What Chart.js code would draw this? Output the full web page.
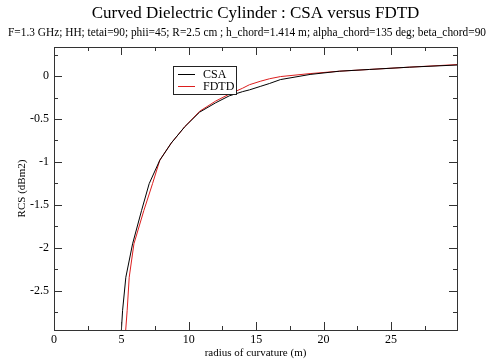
<!DOCTYPE html>
<html>
<head>
<meta charset="utf-8">
<script src="https://cdn.jsdelivr.net/npm/chart.js@4.4.0/dist/chart.umd.min.js"></script>
<style>
    html, body { margin: 0; padding: 0; background: #fff; }
    #wrap { width: 486px; height: 362px; }
</style>
</head>
<body>
<div id="wrap"><canvas id="rcsCanvas" width="486" height="362"></canvas></div>
<script>
// Values
const csaRadius = [5.0, 5.09, 5.33, 5.83, 6.5, 7.06, 7.85, 8.7, 9.7, 10.8, 12.0, 13.0, 14.0, 14.5, 15.3, 16.0, 16.8, 19.0, 21.2, 23.4, 26.4, 29.9];
const csaRcs = [-2.96, -2.73, -2.345, -1.955, -1.565, -1.254, -0.98, -0.78, -0.59, -0.42, -0.31, -0.23, -0.18, -0.16, -0.12, -0.085, -0.04, 0.02, 0.058, 0.078, 0.105, 0.13];
const fdtdRadius = [5.32, 5.43, 5.58, 5.93, 6.67, 7.31, 7.85, 8.7, 9.7, 10.8, 12.0, 13.0, 14.0, 14.5, 15.3, 16.0, 16.8, 19.0, 21.2, 23.4, 26.4, 29.9];
const fdtdRcs = [-2.96, -2.73, -2.345, -1.955, -1.565, -1.254, -0.98, -0.78, -0.59, -0.41, -0.29, -0.21, -0.14, -0.10, -0.06, -0.03, -0.005, 0.03, 0.058, 0.078, 0.105, 0.135];

const xTickLabels = [0, 5, 10, 15, 20, 25];
const xMinorTicks = [2.5, 7.5, 12.5, 17.5, 22.5, 27.5];
const yTickLabels = [0, -0.5, -1, -1.5, -2, -2.5];
const yMinorTicks = [0.25, -0.25, -0.75, -1.25, -1.75, -2.25, -2.75];

const serif = 'Liberation Serif';

function toPoints(xs, ys) {
    return xs.map((x, i) => ({ x: x, y: ys[i] }));
}

// Frame with inward ticks on all four sides (grace style)
const framePlugin = {
    id: 'frame',
    afterDraw(chart) {
        const ctx = chart.ctx;
        const a = chart.chartArea;
        const xs = chart.scales.x;
        const ys = chart.scales.y;
        ctx.save();
        ctx.strokeStyle = '#333';
        ctx.lineWidth = 1;
        ctx.strokeRect(Math.round(a.left) + 0.5, Math.round(a.top) + 0.5,
            Math.round(a.right - a.left), Math.round(a.bottom - a.top));
        ctx.beginPath();
        const tickX = (v, len) => {
            const p = Math.round(xs.getPixelForValue(v)) + 0.5;
            ctx.moveTo(p, a.bottom); ctx.lineTo(p, a.bottom - len);
            ctx.moveTo(p, a.top); ctx.lineTo(p, a.top + len);
        };
        const tickY = (v, len) => {
            const p = Math.round(ys.getPixelForValue(v)) + 0.5;
            ctx.moveTo(a.left, p); ctx.lineTo(a.left + len, p);
            ctx.moveTo(a.right, p); ctx.lineTo(a.right - len, p);
        };
        xTickLabels.forEach(v => tickX(v, 8));
        xMinorTicks.forEach(v => tickX(v, 4));
        yTickLabels.forEach(v => tickY(v, 8));
        yMinorTicks.forEach(v => tickY(v, 4));
        ctx.stroke();
        ctx.restore();
    }
};

// Boxed legend placed inside the plot
const boxLegendPlugin = {
    id: 'boxLegend',
    afterDraw(chart) {
        const ctx = chart.ctx;
        ctx.save();
        ctx.fillStyle = '#fff';
        ctx.fillRect(173.5, 66.5, 63, 28);
        ctx.strokeStyle = '#222';
        ctx.lineWidth = 1;
        ctx.strokeRect(173.5, 66.5, 63, 28);
        ctx.font = '12px "' + serif + '"';
        ctx.textBaseline = 'middle';
        chart.data.datasets.forEach((ds, i) => {
            const y = 74.5 + i * 12;
            ctx.strokeStyle = ds.borderColor;
            ctx.beginPath();
            ctx.moveTo(178, y); ctx.lineTo(195, y);
            ctx.stroke();
            ctx.fillStyle = '#000';
            ctx.fillText(ds.label, 203, y);
        });
        ctx.restore();
    }
};

const chart = new Chart(document.getElementById('rcsCanvas'), {
    type: 'line',
    data: {
        datasets: [{
            label: 'CSA',
            data: toPoints(csaRadius, csaRcs),
            borderColor: '#000',
            borderWidth: 1,
            pointRadius: 0,
            tension: 0
        }, {
            label: 'FDTD',
            data: toPoints(fdtdRadius, fdtdRcs),
            borderColor: 'rgb(220, 30, 30)',
            borderWidth: 1,
            pointRadius: 0,
            tension: 0
        }]
    },
    options: {
        responsive: false,
        animation: false,
        devicePixelRatio: 1,
        layout: {
            padding: { left: 8, right: 0, top: 0, bottom: 0 }
        },
        plugins: {
            legend: { display: false },
            tooltip: { enabled: false },
            title: {
                display: true,
                fullSize: false,
                text: 'Curved Dielectric Cylinder : CSA versus FDTD',
                color: '#000',
                font: { family: serif, size: 17, weight: 'normal' },
                padding: { top: 3, bottom: 0 }
            },
            subtitle: {
                display: true,
                text: 'F=1.3 GHz; HH; tetai=90; phii=45; R=2.5 cm ; h_chord=1.414 m; alpha_chord=135 deg; beta_chord=90',
                color: '#000',
                font: { family: serif, size: 11.5, weight: 'normal' },
                padding: { top: 3, bottom: 6.8 }
            }
        },
        scales: {
            x: {
                type: 'linear',
                min: 0,
                max: 29.9,
                afterBuildTicks: function(scale) {
                    scale.ticks = xTickLabels.map(v => ({ value: v }));
                },
                afterFit: function(scale) {
                    scale.height = 32;
                },
                grid: { display: false, drawTicks: false },
                border: { display: false },
                ticks: {
                    color: '#000',
                    padding: 3,
                    maxRotation: 0,
                    autoSkip: false,
                    font: { family: serif, size: 12 },
                    callback: v => String(v)
                },
                title: {
                    display: true,
                    text: 'radius of curvature (m)',
                    color: '#000',
                    font: { family: serif, size: 11 },
                    padding: { top: 0, bottom: 2 }
                }
            },
            y: {
                type: 'linear',
                min: -2.96,
                max: 0.34,
                afterBuildTicks: function(scale) {
                    scale.ticks = yTickLabels.map(v => ({ value: v }));
                },
                afterFit: function(scale) {
                    scale.width = 46;
                },
                grid: { display: false, drawTicks: false },
                border: { display: false },
                ticks: {
                    color: '#000',
                    padding: 5,
                    autoSkip: false,
                    font: { family: serif, size: 12 },
                    callback: v => String(v)
                },
                title: {
                    display: true,
                    text: 'RCS (dBm2)',
                    color: '#000',
                    font: { family: serif, size: 11 },
                    padding: { top: 8, bottom: 0 }
                }
            },
            // empty right-hand axis, only reserves the right margin
            yRight: {
                type: 'linear',
                position: 'right',
                display: true,
                grid: { display: false, drawTicks: false },
                border: { display: false },
                ticks: { display: false },
                afterFit: function(scale) {
                    scale.width = 29;
                }
            }
        }
    },
    plugins: [framePlugin, boxLegendPlugin]
});
</script>
</body>
</html>
